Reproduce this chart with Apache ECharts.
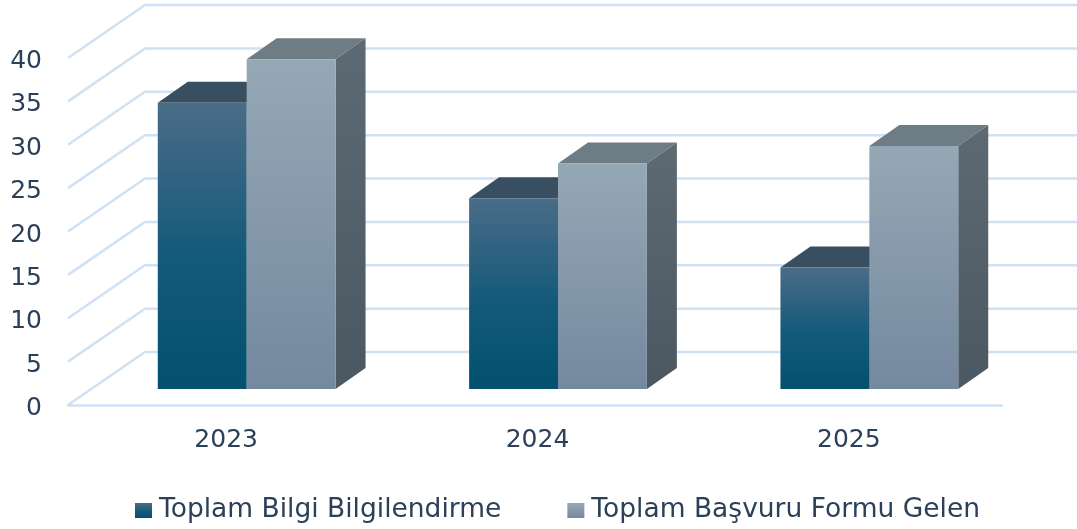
<!DOCTYPE html>
<html>
<head>
<meta charset="utf-8">
<title>Bilgilendirme ve Başvuru</title>
<script src="https://cdn.jsdelivr.net/npm/echarts@6/dist/echarts.min.js"></script>
<style>
html,body{margin:0;padding:0;background:#fff;}
#chart{width:1077px;height:529px;}
</style>
</head>
<body>
<div id="chart"></div>
<script>
var categories = ['2023','2024','2025'];
var yTicks = [0,5,10,15,20,25,30,35,40];
var bilgiValues = [33,22,14];
var basvuruValues = [38,26,28];
var bilgiName = 'Toplam Bilgi Bilgilendirme';
var basvuruName = 'Toplam Başvuru Formu Gelen';

// 3D look
var wallDx = 77, wallDy = -53;      // side wall depth
var barDx = 30, barDy = -21;        // bar depth
var floorDx = 23, floorDy = -16;    // bars stand a bit inside the floor
var barRatio = 0.2855;              // one bar against category width
var textColor = '#2b4159';
var lineColor = '#d0e1f4';
var font = 'DejaVu Sans';

function grad(stops){
	return {type:'linear',x:0,y:0,x2:0,y2:1,colorStops:stops};
}
var bilgiFront = grad([{offset:0,color:'#4a6c87'},{offset:0.55,color:'#13597a'},{offset:1,color:'#03506f'}]);
var basvuruFront = grad([{offset:0,color:'#95a8b6'},{offset:1,color:'#74899f'}]);
var bilgiTop = '#384f62', basvuruTop = '#6e7c86';
var bilgiSide = grad([{offset:0,color:'#33495a'},{offset:1,color:'#023a50'}]);
var basvuruSide = grad([{offset:0,color:'#5e6a73'},{offset:1,color:'#4b5761'}]);

// walls: one line per tick, up the side wall and along the back
var renderWall = function(params,api){
	var p = api.coord([0,api.value(0)]);
	var x0 = params.coordSys.x, w = params.coordSys.width;
	return {
		type:'polyline',
		shape:{points:[[x0,p[1]],[x0+wallDx,p[1]+wallDy],[x0+w+wallDx,p[1]+wallDy]]},
		style:{stroke:lineColor,lineWidth:2.5,fill:null}
	};
};

var makeBar = function(side,front,top,sideFace){
	return function(params,api){
		var catW = api.size([1,0])[0];
		var bw = catW*barRatio;
		var p = api.coord([api.value(0),api.value(1)]);
		var base = api.coord([api.value(0),0]);
		var x = p[0]+floorDx+(side==0?-bw:0);
		var yTop = p[1]+floorDy, yBase = base[1]+floorDy;
		return {
			type:'group',
			children:[
				{type:'polygon',shape:{points:[[x,yTop],[x+bw,yTop],[x+bw+barDx,yTop+barDy],[x+barDx,yTop+barDy]]},style:{fill:top}},
				{type:'polygon',shape:{points:[[x+bw,yTop],[x+bw+barDx,yTop+barDy],[x+bw+barDx,yBase+barDy],[x+bw,yBase]]},style:{fill:sideFace}},
				{type:'rect',shape:{x:x,y:yTop,width:bw,height:yBase-yTop},style:{fill:front}}
			]
		};
	};
};

var toPairs = function(values){
	var out = [];
	for(var i=0;i<values.length;i++){
		out.push([i,values[i]]);
	}
	return out;
};

var myChart = echarts.init(document.getElementById('chart'));
var option = {
	backgroundColor:'#fff',
	animation:false,
	textStyle:{fontFamily:font},
	grid:{left:68,right:75,top:58,bottom:124},
	xAxis:{
		type:'category',
		data:categories,
		axisLine:{lineStyle:{color:lineColor,width:2.5}},
		axisTick:{show:false},
		axisLabel:{color:textColor,fontSize:25,fontFamily:font,margin:23,padding:[0,0,0,5]}
	},
	yAxis:{
		type:'value',
		min:0,
		max:40,
		interval:5,
		axisLine:{show:false},
		axisTick:{show:false},
		splitLine:{show:false},
		axisLabel:{
			margin:26,
			formatter:'{v|{value}}',
			rich:{v:{color:textColor,fontSize:25,fontFamily:font,padding:[7,0,0,0]}}
		}
	},
	legend:{
		left:130,
		top:492,
		data:[bilgiName,basvuruName],
		icon:'rect',
		itemWidth:17,
		itemHeight:15,
		itemGap:66,
		textStyle:{color:textColor,fontSize:26.5,fontFamily:font,padding:[0,0,0,2]}
	},
	series:[
		{
			type:'custom',
			name:'wall',
			renderItem:renderWall,
			data:yTicks,
			encode:{y:0},
			z:1,
			silent:true
		},
		{
			type:'custom',
			name:bilgiName,
			renderItem:makeBar(0,bilgiFront,bilgiTop,bilgiSide),
			data:toPairs(bilgiValues),
			itemStyle:{color:bilgiFront},
			z:2
		},
		{
			type:'custom',
			name:basvuruName,
			renderItem:makeBar(1,basvuruFront,basvuruTop,basvuruSide),
			data:toPairs(basvuruValues),
			itemStyle:{color:basvuruFront},
			z:3
		}
	]
};
myChart.setOption(option);
</script>
</body>
</html>
